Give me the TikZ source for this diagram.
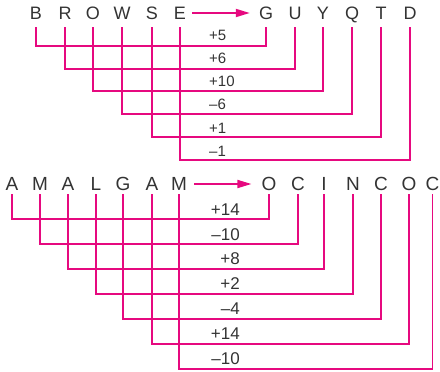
\documentclass[tikz,border=0pt]{standalone}
\usepackage{fontspec}
\setmainfont{Liberation Sans}
\usetikzlibrary{arrows.meta}
\definecolor{pinkline}{HTML}{E6097F}
\definecolor{txt}{HTML}{333333}
\tikzset{
  letterA/.style={inner sep=0pt, text height=13pt, text depth=0pt, minimum height=28pt, text=txt, font=\fontsize{18}{20}\selectfont},
  letterB/.style={inner sep=0pt, text height=13.5pt, text depth=0pt, minimum height=20pt, text=txt, font=\fontsize{19}{21}\selectfont},
  conn/.style={draw=pinkline, line width=1.8pt},
  arr/.style={draw=pinkline, line width=1.8pt, -{Triangle[length=14pt,width=8pt]}},
  labA/.style={anchor=west, inner sep=0pt, text=txt, font=\fontsize{15}{17}\selectfont},
  labB/.style={anchor=east, inner sep=0pt, text=txt, font=\fontsize{17}{19}\selectfont},
}
\begin{document}
\begin{tikzpicture}[x=1pt,y=-1pt]
\useasboundingbox (0,0) rectangle (440,372);
% top row
\node[letterA] (B)  at (36,13)  {B};
\node[letterA] (R)  at (65,13)  {R};
\node[letterA] (O1) at (93,13)  {O};
\node[letterA] (W)  at (122,13) {W};
\node[letterA] (S)  at (152,13) {S};
\node[letterA] (E)  at (180,13) {E};
\node[letterA] (G)  at (266,13) {G};
\node[letterA] (U)  at (295,13) {U};
\node[letterA] (Y)  at (323,13) {Y};
\node[letterA] (Q)  at (352,13) {Q};
\node[letterA] (T)  at (381,13) {T};
\node[letterA] (D)  at (410,13) {D};
\draw[arr] ([xshift=6pt]E.east) -- ([xshift=-9pt]G.west);
\draw[conn] (B.south)  -- ++(0,19)  -| (G.south);
\draw[conn] (R.south)  -- ++(0,42)  -| (U.south);
\draw[conn] (O1.south) -- ++(0,64)  -| (Y.south);
\draw[conn] (W.south)  -- ++(0,87)  -| (Q.south);
\draw[conn] (S.south)  -- ++(0,110) -| (T.south);
\draw[conn] (E.south)  -- ++(0,133) -| (D.south);
\node[labA] (t1) at (209,35)  {+5};
\node[labA] (t2) at (209,58)  {+6};
\node[labA] (t3) at (209,81)  {+10};
\node[labA] (t4) at (209,104) {–6};
\node[labA] (t5) at (209,128) {+1};
\node[labA] (t6) at (209,151) {–1};
% bottom row
\node[letterB] (a1) at (12,184)  {A};
\node[letterB] (a2) at (40,184)  {M};
\node[letterB] (a3) at (68,184)  {A};
\node[letterB] (a4) at (96,184)  {L};
\node[letterB] (a5) at (123,184) {G};
\node[letterB] (a6) at (152,184) {A};
\node[letterB] (a7) at (179,184) {M};
\node[letterB] (b1) at (269,184) {O};
\node[letterB] (b2) at (298,184) {C};
\node[letterB] (b3) at (324,184) {I};
\node[letterB] (b4) at (353,184) {N};
\node[letterB] (b5) at (381,184) {C};
\node[letterB] (b6) at (409,184) {O};
\node[letterB] (b7) at (432.5,184) {C};
\draw[arr] ([xshift=7pt]a7.east) -- ([xshift=-10pt]b1.west);
\draw[conn] (a1.south) -- ++(0,25)  -| (b1.south);
\draw[conn] (a2.south) -- ++(0,50)  -| (b2.south);
\draw[conn] (a3.south) -- ++(0,75)  -| (b3.south);
\draw[conn] (a4.south) -- ++(0,100) -| (b4.south);
\draw[conn] (a5.south) -- ++(0,125) -| (b5.south);
\draw[conn] (a6.south) -- ++(0,150) -| (b6.south);
\draw[conn] (a7.south) -- ++(0,175) -| (b7.south);
\node[labB] (m1) at (240,210) {+14};
\node[labB] (m2) at (240,235) {–10};
\node[labB] (m3) at (240,259) {+8};
\node[labB] (m4) at (240,284) {+2};
\node[labB] (m5) at (240,309) {–4};
\node[labB] (m6) at (240,334) {+14};
\node[labB] (m7) at (240,359) {–10};
\end{tikzpicture}
\end{document}
